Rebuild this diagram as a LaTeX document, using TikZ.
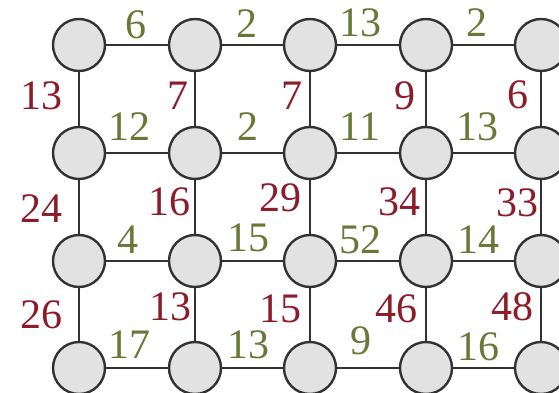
\documentclass[tikz,border=0pt]{standalone}
\usepackage{fontspec}
\setmainfont{Liberation Serif}
\usetikzlibrary{positioning}
\definecolor{costred}{RGB}{140,28,42}
\definecolor{costgreen}{RGB}{105,120,55}
\definecolor{edgegray}{RGB}{50,50,50}
\definecolor{nodefill}{RGB}{226,226,226}

\begin{document}
\begin{tikzpicture}[
	x=1pt, y=-1pt,
	vertex/.style={circle, draw=edgegray, fill=nodefill, line width=2.4pt,
		minimum size=52pt, inner sep=0pt},
	link/.style={draw=edgegray, line width=2pt},
	hcost/.style={text=costgreen, font=\fontsize{42}{42}\selectfont, inner sep=0pt},
	vcost/.style={text=costred, font=\fontsize{42}{42}\selectfont, inner sep=0pt}
	]
	\useasboundingbox (0,0) rectangle (559,393);
	\clip (0,0) rectangle (559,393);
	
	% 1. GRID VERTICES
	\foreach \r/\y in {1/45,2/153,3/261,4/368}
		\foreach \c/\x in {1/79,2/195,3/310,4/426,5/541}
			\node[vertex] (v\r\c) at (\x,\y) {};
	
	% 2. LINKS (rows, then columns)
	\foreach \r in {1,...,4}
		\foreach \a/\b in {1/2,2/3,3/4,4/5}
			\draw[link] (v\r\a) -- (v\r\b);
	\foreach \c in {1,...,5}
		\foreach \a/\b in {1/2,2/3,3/4}
			\draw[link] (v\a\c) -- (v\b\c);
	
	% 3. HORIZONTAL COSTS (green)
	\foreach \nm/\val/\x/\y in {h11/6/136/25, h12/2/247/24, h13/13/360/23, h14/2/477/23,
		h21/12/129/127, h22/2/248/127, h23/11/360/127, h24/13/477/127,
		h31/4/128/240, h32/15/248/238, h33/52/360/240, h34/14/478/240,
		h41/17/129/345, h42/13/248/345, h43/9/361/341, h44/16/478/347}
		\node[hcost] (\nm) at (\x,\y) {\val};
	
	% 4. VERTICAL COSTS (red)
	\foreach \nm/\val/\x/\y in {u11/13/41/96, u12/7/178/96, u13/7/292/96, u14/9/405/96, u15/6/518/95,
		u21/24/41/209, u22/16/169/202, u23/29/280/198, u24/34/399/202, u25/33/517/203,
		u31/26/41/315, u32/13/170/307, u33/15/280/309, u34/46/396/309, u35/48/512/307}
		\node[vcost] (\nm) at (\x,\y) {\val};
\end{tikzpicture}
\end{document}
